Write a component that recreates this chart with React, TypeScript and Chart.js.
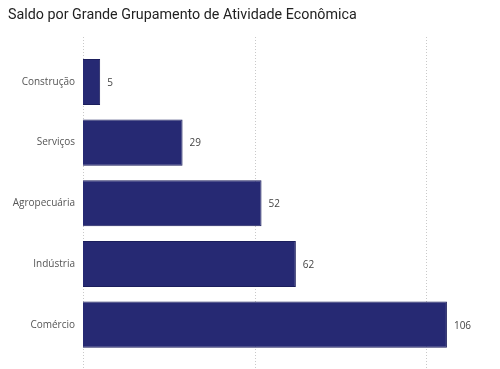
import React, { useEffect, useRef } from "react";
import { Chart, registerables } from "chart.js";

Chart.register(...registerables);

const categories = ["Construção", "Serviços", "Agropecuária", "Indústria", "Comércio"];
const values = [5, 29, 52, 62, 106];
const gridValues = [0, 50, 100];
const title = "Saldo por Grande Grupamento de Atividade Econômica";

const gridPlugin = {
  id: "extGrid",
  beforeDatasetsDraw(chart: any) {
    const { ctx } = chart;
    const x = chart.scales.x;
    ctx.save();
    ctx.strokeStyle = "#c9c9c9";
    ctx.lineWidth = 1;
    ctx.setLineDash([1, 2]);
    for (const v of gridValues) {
      const px = Math.round(x.getPixelForValue(v)) + 0.5;
      ctx.beginPath();
      ctx.moveTo(px, 37);
      ctx.lineTo(px, 369);
      ctx.stroke();
    }
    ctx.restore();
  },
};

const labelPlugin = {
  id: "valueLabels",
  afterDatasetsDraw(chart: any) {
    const { ctx } = chart;
    const meta = chart.getDatasetMeta(0);
    ctx.save();
    ctx.font = "10px 'Open Sans'";
    ctx.fillStyle = "#444";
    ctx.textAlign = "left";
    ctx.textBaseline = "middle";
    meta.data.forEach((bar: any, i: number) => {
      ctx.fillText(String(values[i]), bar.x + 7, bar.y + 1);
    });
    ctx.restore();
  },
};

export default function App() {
  const ref = useRef<HTMLCanvasElement>(null);
  useEffect(() => {
    const chart = new Chart(ref.current!, {
      type: "bar",
      data: {
        labels: categories,
        datasets: [
          {
            data: values,
            backgroundColor: "#262973",
            borderColor: "#1b1e5c",
            borderWidth: 1,
            categoryPercentage: 1,
            barPercentage: 0.76,
          },
        ],
      },
      options: {
        indexAxis: "y",
        animation: false,
        responsive: false,
        maintainAspectRatio: false,
        layout: { padding: { left: 8, right: 5, top: 51.6, bottom: 13.6 } },
        plugins: { legend: { display: false }, tooltip: { enabled: false } },
        scales: {
          x: {
            min: 0,
            max: 120,
            display: false,
          },
          y: {
            grid: { display: false, drawTicks: false },
            border: { display: false },
            ticks: {
              color: "#555",
              font: { family: "'Open Sans'", size: 10 },
              padding: 8,
            },
            afterFit(scale: any) {
              scale.width = 75;
            },
          },
        },
      },
      plugins: [gridPlugin, labelPlugin],
    });
    return () => chart.destroy();
  }, []);
  return (
    <div style={{ position: "absolute", left: 0, top: 0, width: 500, height: 369, background: "#fff" }}>
      <div
        style={{
          position: "absolute",
          left: 8,
          top: 6,
          fontFamily: "Roboto, sans-serif",
          fontSize: 14.3,
          color: "#222",
          whiteSpace: "nowrap",
        }}
      >
        {title}
      </div>
      <canvas ref={ref} width={500} height={369} style={{ display: "block" }} />
    </div>
  );
}
